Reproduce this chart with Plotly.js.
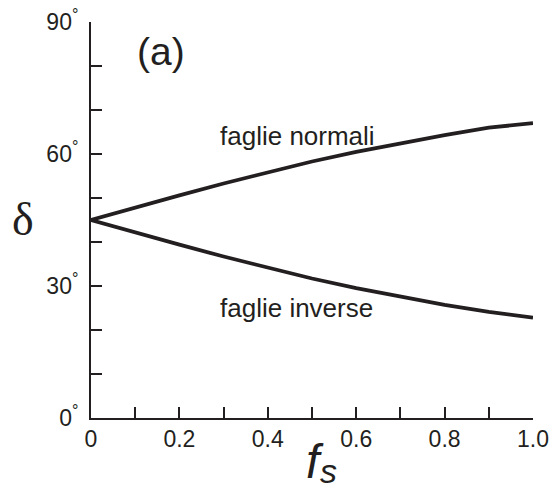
<!DOCTYPE html>
<html>
<head>
<meta charset="utf-8">
<script src="https://cdn.plot.ly/plotly-3.0.1.min.js"></script>
<style>html,body{margin:0;padding:0;background:#fff;}#chart{width:551px;height:486px;}</style>
</head>
<body>
<div id="chart"></div>
<script>
// Data
const fs = [0, 0.1, 0.2, 0.3, 0.4, 0.5, 0.6, 0.7, 0.8, 0.9, 1.0];
const deltaNormali = [45, 47.9, 50.6, 53.3, 55.9, 58.3, 60.5, 62.5, 64.3, 66.0, 67.0];
const deltaInverse = [45, 42.1, 39.4, 36.7, 34.1, 31.7, 29.5, 27.5, 25.7, 24.1, 22.8];
const xTickVals = [0, 0.1, 0.2, 0.3, 0.4, 0.5, 0.6, 0.7, 0.8, 0.9, 1.0];
const xTickText = ['0', '', '0.2', '', '0.4', '', '0.6', '', '0.8', '', '1.0'];
const yTickVals = [0, 10, 20, 30, 40, 50, 60, 70, 80, 90];
const yTickText = ['0<sup>°</sup>', '', '', '30<sup>°</sup>', '', '', '60<sup>°</sup>', '', '', '90<sup>°</sup>'];
const labelNormali = 'faglie normali';
const labelInverse = 'faglie inverse';

const ink = '#231f20';
const font = 'Liberation Sans, Arial, Helvetica, sans-serif';

const traces = [
  {x: fs, y: deltaNormali, mode: 'lines', line: {color: ink, width: 3.8}, hoverinfo: 'skip'},
  {x: fs, y: deltaInverse, mode: 'lines', line: {color: ink, width: 3.8}, hoverinfo: 'skip'}
];

const layout = {
  width: 551, height: 486,
  margin: {l: 91, r: 18, t: 22, b: 68},
  paper_bgcolor: '#fff', plot_bgcolor: '#fff',
  showlegend: false,
  font: {family: font, color: ink},
  xaxis: {
    range: [0, 1], showgrid: false, zeroline: false,
    showline: true, linecolor: ink, linewidth: 2,
    tickmode: 'array', tickvals: xTickVals, ticktext: xTickText,
    ticks: 'inside', ticklen: 11, tickwidth: 2, tickcolor: ink,
    ticklabelstandoff: -1,
    tickfont: {family: font, size: 23, color: ink}
  },
  yaxis: {
    range: [0, 90], showgrid: false, zeroline: false,
    showline: true, linecolor: ink, linewidth: 2,
    tickmode: 'array', tickvals: yTickVals, ticktext: yTickText,
    ticks: 'inside', ticklen: 11, tickwidth: 2, tickcolor: ink,
    ticklabelstandoff: 6,
    tickfont: {family: font, size: 23, color: ink}
  },
  annotations: [
    {text: labelNormali, x: 0.287, y: 64.0, xref: 'x', yref: 'y', xanchor: 'left', yanchor: 'middle',
     showarrow: false, font: {family: font, size: 26, color: ink}},
    {text: labelInverse, x: 0.287, y: 25.0, xref: 'x', yref: 'y', xanchor: 'left', yanchor: 'middle',
     showarrow: false, font: {family: font, size: 26, color: ink}},
    {text: '(a)', x: 0.1, y: 83.3, xref: 'x', yref: 'y', xanchor: 'left', yanchor: 'middle',
     showarrow: false, font: {family: font, size: 39, color: ink}},
    {text: 'δ', x: 0, y: 0, xref: 'paper', yref: 'paper', xanchor: 'center', yanchor: 'middle',
     showarrow: false, font: {family: 'Liberation Serif, Times New Roman, serif', size: 46, color: ink}},
    {text: '<i>f</i>', x: 0, y: 0, xref: 'paper', yref: 'paper', xanchor: 'center', yanchor: 'middle',
     showarrow: false, font: {family: font, size: 48, color: ink}},
    {text: '<i>s</i>', x: 0, y: 0, xref: 'paper', yref: 'paper', xanchor: 'center', yanchor: 'middle',
     showarrow: false, font: {family: font, size: 34, color: ink}}
  ]
};
// label positions given in pixels -> convert to paper coordinates
const plotW = 551 - 91 - 18, plotH = 486 - 22 - 68;
function px(ann, x, y) { ann.x = (x - 91) / plotW; ann.y = (418 - y) / plotH; }
px(layout.annotations[3], 23, 219);
px(layout.annotations[4], 315, 461);
px(layout.annotations[5], 328, 471);

Plotly.newPlot('chart', traces, layout, {displayModeBar: false, staticPlot: true});
</script>
</body>
</html>
